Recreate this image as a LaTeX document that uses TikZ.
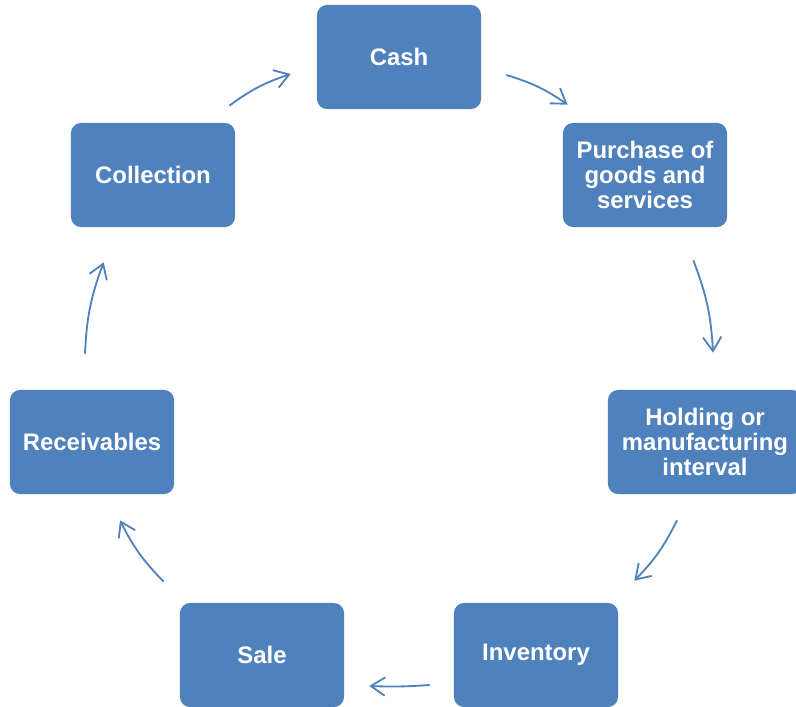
\documentclass[tikz,border=0pt]{standalone}
\usepackage{fontspec}
\setmainfont{Liberation Sans}
\usetikzlibrary{arrows.meta}
\definecolor{cycleblue}{RGB}{79,129,189}
\tikzset{
  stage/.style={fill=cycleblue, rounded corners=0.25cm, minimum width=4.1cm,
    minimum height=2.6cm, inner sep=0pt, align=center, text=white,
    font=\bfseries\fontsize{17}{17.7}\selectfont},
  flow/.style={draw=cycleblue, line width=1.3pt,
    -{Straight Barb[length=3.5mm,width=4.6mm]}},
}
\begin{document}
\begin{tikzpicture}[x=0.025cm,y=0.025cm]
\useasboundingbox (0,0) rectangle (796,706);

% the seven stages, clockwise from the top
\node[stage] (cash) at (399,649) {Cash};
\node[stage] (purchase) at (645,531) {Purchase of\\goods and\\services};
\node[stage, minimum width=4.85cm] (holding) at (705,264) {Holding or\\manufacturing\\interval};
\node[stage] (inventory) at (536,51) {Inventory};
\node[stage] (sale) at (262,51) {Sale};
\node[stage] (receivables) at (92,264) {Receivables};
\node[stage] (collection) at (153,531) {Collection};

% arrows round the ring
\draw[flow] ([shift={(-6,17)}]collection.north east) to[bend left=9] ([shift={(-26,-17)}]cash.west);
\draw[flow] ([shift={(25,-18)}]cash.east) to[bend left=9] ([shift={(5,18)}]purchase.north west);
\draw[flow] ([shift={(-34,-33)}]purchase.south east) to[bend left=9] ([shift={(8,37)}]holding.north);
\draw[flow] ([shift={(-28,-26)}]holding.south) to[bend left=9] ([shift={(16,22)}]inventory.north east);
\draw[flow] ([shift={(-24,-30)}]inventory.west) to[bend left=3] ([shift={(25,-31)}]sale.east);
\draw[flow] ([shift={(-16,21)}]sale.north west) to[bend left=9] ([shift={(28,-26)}]receivables.south);
\draw[flow] ([shift={(-7,36)}]receivables.north) to[bend left=9] ([shift={(33,-35)}]collection.south west);
\end{tikzpicture}
\end{document}
